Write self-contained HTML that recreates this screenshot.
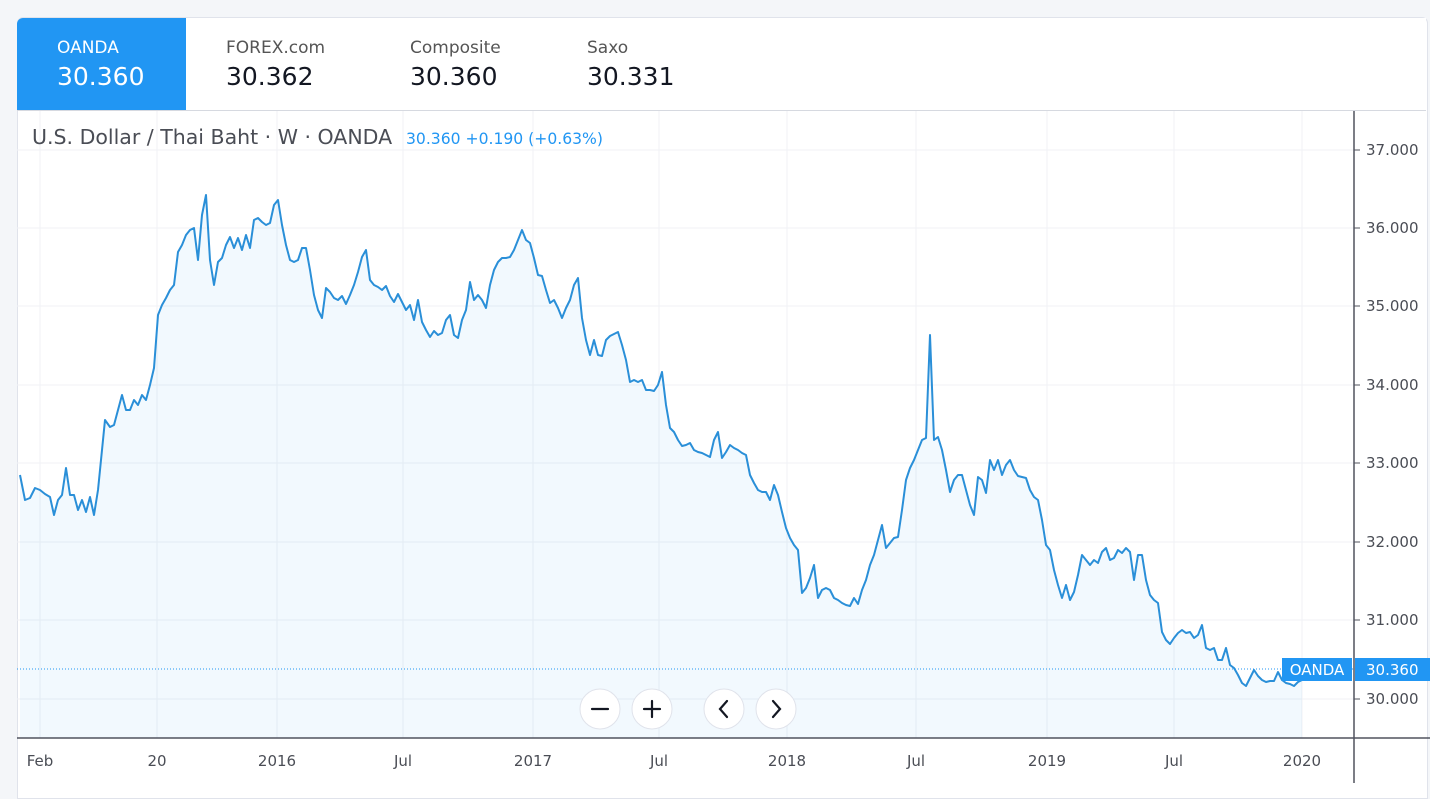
<!DOCTYPE html>
<html><head><meta charset="utf-8"><style>
body{margin:0;width:1430px;height:783px;background:#f4f6f9;font-family:"DejaVu Sans","Liberation Sans",sans-serif;overflow:hidden;position:relative}
.card{position:absolute;left:17px;top:17px;width:1409px;height:780px;background:#fff;border:1px solid #e0e3eb;border-radius:6px 6px 0 0}
.tab{position:absolute;top:18px;height:92px;border-right:1px solid #d6d9e0;border-bottom:1px solid #d6d9e0;background:#fff}
.tab .n{position:absolute;left:40px;top:20px;font-size:17px;color:#555}
.tab .v{position:absolute;left:40px;top:44px;font-size:25px;color:#131722}
</style></head><body>
<div class="card"></div>
<div class="tab" style="left:17px;width:169px;background:#2196f3;border-radius:6px 0 0 0;border-right:none"><div class="n" style="color:#fff">OANDA</div><div class="v" style="color:#fff">30.360</div></div>
<div class="tab" style="left:186px;width:184px"><div class="n">FOREX.com</div><div class="v">30.362</div></div>
<div class="tab" style="left:370px;width:177px"><div class="n">Composite</div><div class="v">30.360</div></div>
<div class="tab" style="left:547px;width:168px"><div class="n">Saxo</div><div class="v">30.331</div></div>
<div class="tab" style="left:715px;width:711px;border-right:none"></div>
<svg width="1430" height="783" style="position:absolute;left:0;top:0" font-family="DejaVu Sans, Liberation Sans, sans-serif">
<g stroke="#f0f2f5" stroke-width="1">
<line x1="40" y1="111" x2="40" y2="738"/><line x1="157" y1="111" x2="157" y2="738"/><line x1="277" y1="111" x2="277" y2="738"/><line x1="403" y1="111" x2="403" y2="738"/><line x1="533" y1="111" x2="533" y2="738"/><line x1="659" y1="111" x2="659" y2="738"/><line x1="787" y1="111" x2="787" y2="738"/><line x1="916" y1="111" x2="916" y2="738"/><line x1="1047" y1="111" x2="1047" y2="738"/><line x1="1174" y1="111" x2="1174" y2="738"/><line x1="1302" y1="111" x2="1302" y2="738"/>
<line x1="17" y1="150" x2="1354" y2="150"/><line x1="17" y1="228" x2="1354" y2="228"/><line x1="17" y1="306" x2="1354" y2="306"/><line x1="17" y1="385" x2="1354" y2="385"/><line x1="17" y1="463" x2="1354" y2="463"/><line x1="17" y1="542" x2="1354" y2="542"/><line x1="17" y1="620" x2="1354" y2="620"/><line x1="17" y1="699" x2="1354" y2="699"/>
</g>
<polygon id="area" fill="#2196f3" fill-opacity="0.06" points=""/>
<polyline id="ln" fill="none" stroke="#2a8fd8" stroke-width="2" stroke-linejoin="round" points=""/>
<line x1="17" y1="669" x2="1354" y2="669" stroke="#2196f3" stroke-width="1" stroke-dasharray="1,2"/>
<line x1="1354" y1="111" x2="1354" y2="783" stroke="#50535e" stroke-width="1.5"/>
<line x1="17" y1="738" x2="1430" y2="738" stroke="#50535e" stroke-width="1.5"/>
<g stroke="#50535e"><line x1="1354" y1="150" x2="1360" y2="150"/><line x1="1354" y1="228" x2="1360" y2="228"/><line x1="1354" y1="306" x2="1360" y2="306"/><line x1="1354" y1="385" x2="1360" y2="385"/><line x1="1354" y1="463" x2="1360" y2="463"/><line x1="1354" y1="542" x2="1360" y2="542"/><line x1="1354" y1="620" x2="1360" y2="620"/><line x1="1354" y1="699" x2="1360" y2="699"/></g>
<g font-size="15" fill="#4a4d55"><text x="1366" y="155">37.000</text><text x="1366" y="233">36.000</text><text x="1366" y="311">35.000</text><text x="1366" y="390">34.000</text><text x="1366" y="468">33.000</text><text x="1366" y="547">32.000</text><text x="1366" y="625">31.000</text><text x="1366" y="704">30.000</text></g>
<g font-size="15" fill="#4a4d55" text-anchor="middle"><text x="40" y="766">Feb</text><text x="157" y="766">20</text><text x="277" y="766">2016</text><text x="403" y="766">Jul</text><text x="533" y="766">2017</text><text x="659" y="766">Jul</text><text x="787" y="766">2018</text><text x="916" y="766">Jul</text><text x="1047" y="766">2019</text><text x="1174" y="766">Jul</text><text x="1302" y="766">2020</text></g>
<rect x="1282" y="658" width="70" height="23" fill="#2196f3"/><text x="1317" y="675" font-size="15" fill="#fff" text-anchor="middle">OANDA</text>
<rect x="1355" y="658" width="75" height="23" fill="#2196f3"/><text x="1366" y="675" font-size="15" fill="#fff">30.360</text>
<text x="32" y="144" font-size="20.5" fill="#4a4d55">U.S. Dollar / Thai Baht · W · OANDA</text>
<text x="406" y="144" font-size="15.6" fill="#2196f3">30.360  +0.190 (+0.63%)</text>
<g fill="#fff" stroke="#e0e3eb"><circle cx="600" cy="709" r="20"/><circle cx="652" cy="709" r="20"/><circle cx="724" cy="709" r="20"/><circle cx="776" cy="709" r="20"/></g>
<g stroke="#131722" stroke-width="2.2" fill="none" stroke-linecap="round"><line x1="592" y1="709" x2="608" y2="709"/><line x1="644" y1="709" x2="660" y2="709"/><line x1="652" y1="701" x2="652" y2="717"/><polyline points="727,701 720,709 727,717"/><polyline points="773,701 780,709 773,717"/></g>
</svg>
<script>
var p="20,475 25,500 30,498 35,488 40,490 45,494 50,497 54,515 58,500 62,495 66,468 70,495 74,495 78,510 82,500 86,512 90,497 94,515 98,490 102,450 105,420 110,427 114,425 118,410 122,395 126,410 130,410 134,400 138,405 142,395 146,400 150,385 154,368 158,315 162,305 166,298 170,290 174,285 178,252 182,245 186,235 190,230 194,228 198,260 202,215 206,195 210,260 214,285 218,262 222,258 226,245 230,237 234,248 238,238 242,250 246,235 250,248 254,220 258,218 262,222 266,225 270,223 274,205 278,200 282,225 286,245 290,260 294,262 298,260 302,248 306,248 310,270 314,295 318,310 322,318 326,288 330,292 334,298 338,300 342,296 346,304 350,295 354,285 358,272 362,257 366,250 370,280 374,285 378,287 382,290 386,286 390,296 394,302 398,294 402,302 406,310 410,305 414,320 418,300 422,322 426,330 430,337 434,331 438,335 442,333 446,320 450,315 454,335 458,338 462,320 466,310 470,282 474,300 478,295 482,300 486,308 490,285 494,270 498,262 502,258 506,258 510,257 514,250 518,240 522,230 526,240 530,243 534,258 538,275 542,276 546,290 550,303 554,300 558,308 562,318 566,308 570,300 574,285 578,278 582,318 586,340 590,355 594,340 598,355 602,356 606,340 610,336 614,334 618,332 622,345 626,360 630,382 634,380 638,382 642,380 646,390 650,390 654,391 658,385 662,372 666,405 670,428 674,432 678,440 682,446 686,445 690,443 694,450 698,452 702,453 706,455 710,457 714,440 718,432 722,458 726,452 730,445 734,448 738,450 742,453 746,455 750,475 754,483 758,490 762,492 766,492 770,500 774,485 778,495 782,512 786,528 790,538 794,545 798,550 802,593 806,588 810,578 814,565 818,598 822,590 826,588 830,590 834,598 838,600 842,603 846,605 850,606 854,598 858,604 862,590 866,580 870,565 874,555 878,540 882,525 886,548 890,543 894,538 898,537 902,510 906,480 910,468 914,460 918,450 922,440 926,438 930,335 934,440 938,437 942,450 946,470 950,492 954,480 958,475 962,475 966,490 970,505 974,515 978,477 982,480 986,493 990,460 994,470 998,460 1002,475 1006,465 1010,460 1014,470 1018,476 1022,477 1026,478 1030,490 1034,497 1038,500 1042,520 1046,545 1050,550 1054,570 1058,585 1062,598 1066,585 1070,600 1074,592 1078,575 1082,555 1086,560 1090,565 1094,560 1098,563 1102,552 1106,548 1110,560 1114,558 1118,550 1122,553 1126,548 1130,552 1134,580 1138,555 1142,555 1146,580 1150,595 1154,600 1158,603 1162,632 1166,640 1170,644 1174,638 1178,633 1182,630 1186,633 1190,632 1194,638 1198,635 1202,625 1206,648 1210,650 1214,648 1218,660 1222,660 1226,648 1230,665 1234,668 1238,675 1242,683 1246,686 1250,678 1254,670 1258,676 1262,680 1266,682 1270,681 1274,681 1278,672 1282,680 1286,683 1290,684 1294,686 1298,682 1302,680";
document.getElementById('ln').setAttribute('points',p);
document.getElementById('area').setAttribute('points',"20,738 "+p+" 1302,738");
</script>
</body></html>
